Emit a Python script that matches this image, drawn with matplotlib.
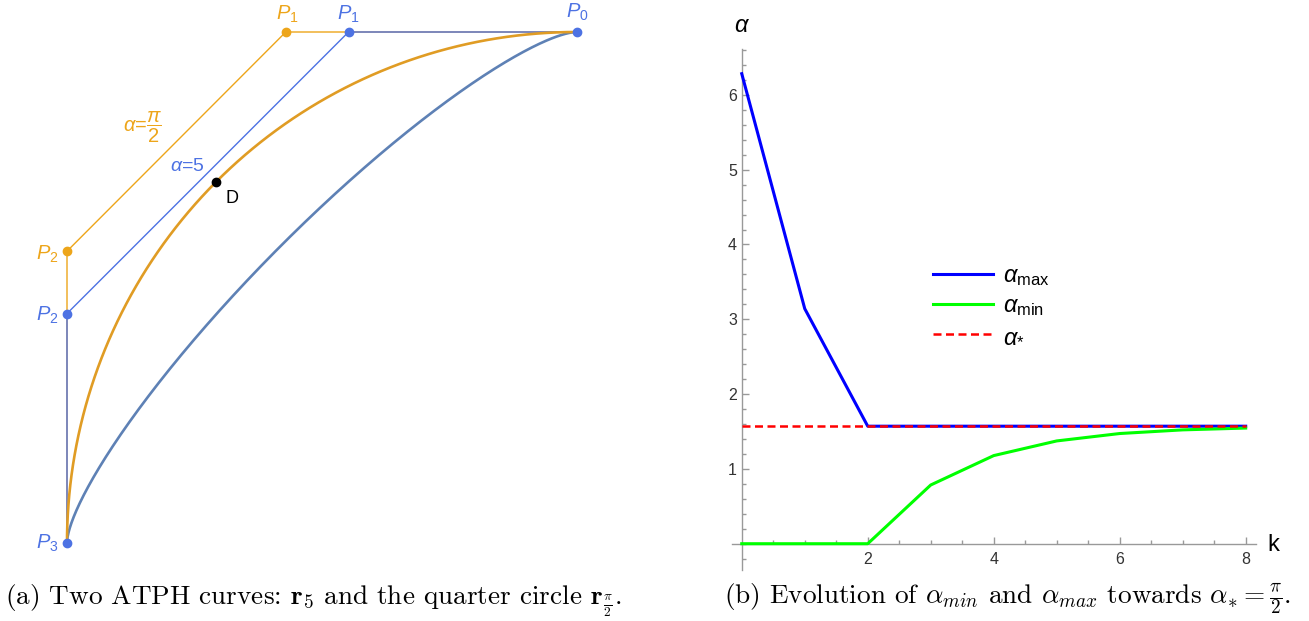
#!/usr/bin/python3

# ATPH curves with their control polygons, and the bisection on alpha

import numpy as np
import matplotlib
matplotlib.use('Agg')
import matplotlib.pyplot as plt

plt.rcParams['font.family'] = ['Liberation Sans', 'DejaVu Sans']
plt.rcParams['mathtext.fontset'] = 'custom'
plt.rcParams['mathtext.rm'] = 'Liberation Sans'
plt.rcParams['mathtext.it'] = 'Liberation Sans:italic'
plt.rcParams['mathtext.bf'] = 'Liberation Sans:bold'

# control polygons P0..P3
ALPHA_ARC = np.pi / 2
ARC_X = [1.0, 0.429, 0.0, 0.0]
ARC_Y = [1.0, 1.0, 0.571, 0.0]
ALPHA_R5 = 5.0
R5_X = [1.0, 0.552, 0.0, 0.0]
R5_Y = [1.0, 1.0, 0.449, 0.0]

# alpha interval per iteration
K = np.arange(9)
ALPHA_MAX = [6.283, 3.142, 1.571, 1.571, 1.571, 1.571, 1.571, 1.571, 1.571]
ALPHA_MIN = [0.0, 0.0, 0.0, 0.785, 1.178, 1.374, 1.473, 1.522, 1.546]
ALPHA_STAR = 1.571

ORANGE_POLY = '#eda51a'
ORANGE_CURVE = '#e09c24'
BLUE_POLY = '#4d72e3'
BLUE_CURVE = '#5e81b5'
AXIS_GRAY = '#999999'

W, H = 1309, 621


def c_basis(a, t):
    """basis of span{1, t, cos t, sin t} on [0, a]"""
    d = a - np.sin(a)
    z0 = (a - t - np.sin(a - t)) / d
    z3 = (t - np.sin(t)) / d
    m = np.array([[1, 0, 1, 0],
                  [0, 1, 0, 1],
                  [1, a, np.cos(a), np.sin(a)],
                  [0, 1, -np.sin(a), np.cos(a)]])
    rhs = np.array([0, (1 - np.cos(a)) / d, 0, 0])
    c = np.linalg.solve(m, rhs)
    z1 = c[0] + c[1] * t + c[2] * np.cos(t) + c[3] * np.sin(t)
    z2 = 1 - z0 - z1 - z3
    return np.vstack([z0, z1, z2, z3])


def atph_curve(a, xs, ys, t=None):
    if t is None:
        t = np.linspace(0, a, 400)
    z = c_basis(a, np.atleast_1d(t))
    return z.T @ np.array(xs), z.T @ np.array(ys)


fig = plt.figure(figsize=(W / 100, H / 100), dpi=100)

# ---- left: the two curves
axl = fig.add_axes([0, 46 / H, 660 / W, 575 / H])
axl.set_xlim(-67 / 510, 593 / 510)
axl.set_ylim(-32 / 511, 543 / 511)
axl.axis('off')

axl.plot(ARC_X, ARC_Y, color=ORANGE_POLY, lw=1.0, zorder=1)
axl.plot(R5_X, R5_Y, color=BLUE_POLY, lw=1.0, zorder=2)

bx, by = atph_curve(ALPHA_R5, R5_X, R5_Y)
axl.plot(bx, by, color=BLUE_CURVE, lw=1.9, zorder=3)
ox, oy = atph_curve(ALPHA_ARC, ARC_X, ARC_Y)
axl.plot(ox, oy, color=ORANGE_CURVE, lw=1.9, zorder=4)

axl.plot(ARC_X[1:3], ARC_Y[1:3], 'o', color=ORANGE_POLY, ms=6, zorder=5)
axl.plot(R5_X, R5_Y, 'o', color=BLUE_POLY, ms=6, zorder=5)

dx, dy = atph_curve(ALPHA_ARC, ARC_X, ARC_Y, t=ALPHA_ARC / 2)
axl.plot(dx, dy, 'o', color='black', ms=6, zorder=6)
axl.annotate('D', (dx[0], dy[0]), xytext=(16, -17), textcoords='offset pixels',
             ha='center', va='center', fontsize=13, color='black')

labels = [
    (R5_X[0], R5_Y[0], r'$P_0$', BLUE_POLY, (0, 20)),
    (ARC_X[1], ARC_Y[1], r'$P_1$', ORANGE_POLY, (2, 18)),
    (R5_X[1], R5_Y[1], r'$P_1$', BLUE_POLY, (0, 18)),
    (ARC_X[2], ARC_Y[2], r'$P_2$', ORANGE_POLY, (-20, -3)),
    (R5_X[2], R5_Y[2], r'$P_2$', BLUE_POLY, (-20, -2)),
    (R5_X[3], R5_Y[3], r'$P_3$', BLUE_POLY, (-20, 0)),
]
for x, y, txt, clr, off in labels:
    axl.annotate(txt, (x, y), xytext=off, textcoords='offset pixels',
                 ha='center', va='center', fontsize=14.5, color=clr)

axl.text(0.149, 0.814, r'$\alpha$=$\dfrac{\pi}{2}$', ha='center', va='center',
         fontsize=14.5, color=ORANGE_POLY)
axl.text(0.235, 0.736, r'$\alpha$=5', ha='center', va='center',
         fontsize=14, color=BLUE_POLY)

# ---- right: alpha_min / alpha_max against k
ax = fig.add_axes([732.3 / W, (H - 569.9) / H, 524.1 / W, 521.4 / H])
ax.set_xlim(-0.15, 8.17)
ax.set_ylim(-0.35, 6.62)

ax.plot(K, ALPHA_MAX, color='#0000ff', lw=2.2, label=r'$\alpha_{\mathrm{max}}$',
        zorder=3, clip_on=False)
ax.plot(K, ALPHA_MIN, color='#00ff00', lw=2.2, label=r'$\alpha_{\mathrm{min}}$',
        zorder=3, clip_on=False)
ax.plot(K[[0, -1]], [ALPHA_STAR, ALPHA_STAR], color='#ff0000', lw=1.8,
        ls=(0, (3.2, 1.8)), label=r'$\alpha_{*}$', zorder=4)

for s in ['top', 'right']:
    ax.spines[s].set_visible(False)
for s in ['left', 'bottom']:
    ax.spines[s].set_position(('data', 0))
    ax.spines[s].set_color(AXIS_GRAY)
    ax.spines[s].set_linewidth(1.0)

ax.set_xticks([2, 4, 6, 8])
ax.set_xticks(np.arange(0.5, 8.01, 0.5), minor=True)
ax.set_yticks([1, 2, 3, 4, 5, 6])
ax.set_yticks(np.round(np.arange(-0.2, 6.61, 0.2), 2), minor=True)
ax.tick_params(which='both', direction='in', color=AXIS_GRAY, width=1.0,
               labelcolor='#333333', labelsize=11.5)
ax.tick_params(which='major', length=5)
ax.tick_params(which='minor', length=3)
ax.tick_params(axis='x', pad=6)
ax.tick_params(axis='y', pad=3.4)

ax.annotate(r'$\alpha$', (0, 1), xycoords=('data', 'axes fraction'), xytext=(0, 23),
            textcoords='offset pixels', ha='center', va='center', fontsize=17)
ax.annotate('k', (1, 0), xycoords=('axes fraction', 'data'), xytext=(17, -1),
            textcoords='offset pixels', ha='center', va='center', fontsize=17)

ax.legend(loc='center left', bbox_to_anchor=(933 / W, (H - 306) / H),
          bbox_transform=fig.transFigure, frameon=False, fontsize=17,
          borderpad=0, borderaxespad=0, handlelength=2.54, handletextpad=0.42,
          labelspacing=0.3)

# ---- captions
cap = dict(fontfamily='cmr10', math_fontfamily='cm', fontsize=19.6,
           ha='center', va='baseline', color='black')
fig.text(314 / W, (H - 605) / H,
         r'(a) Two ATPH curves: $\mathbf{r}_5$ and the quarter circle $\mathbf{r}_{\frac{\pi}{2}}$.',
         **cap)
fig.text(1007.5 / W, (H - 604) / H,
         r'(b) Evolution of $\alpha_{min}$ and $\alpha_{max}$ towards $\alpha_{\ast} = \frac{\pi}{2}$.',
         **cap)

fig.savefig('out.png', dpi=100)
